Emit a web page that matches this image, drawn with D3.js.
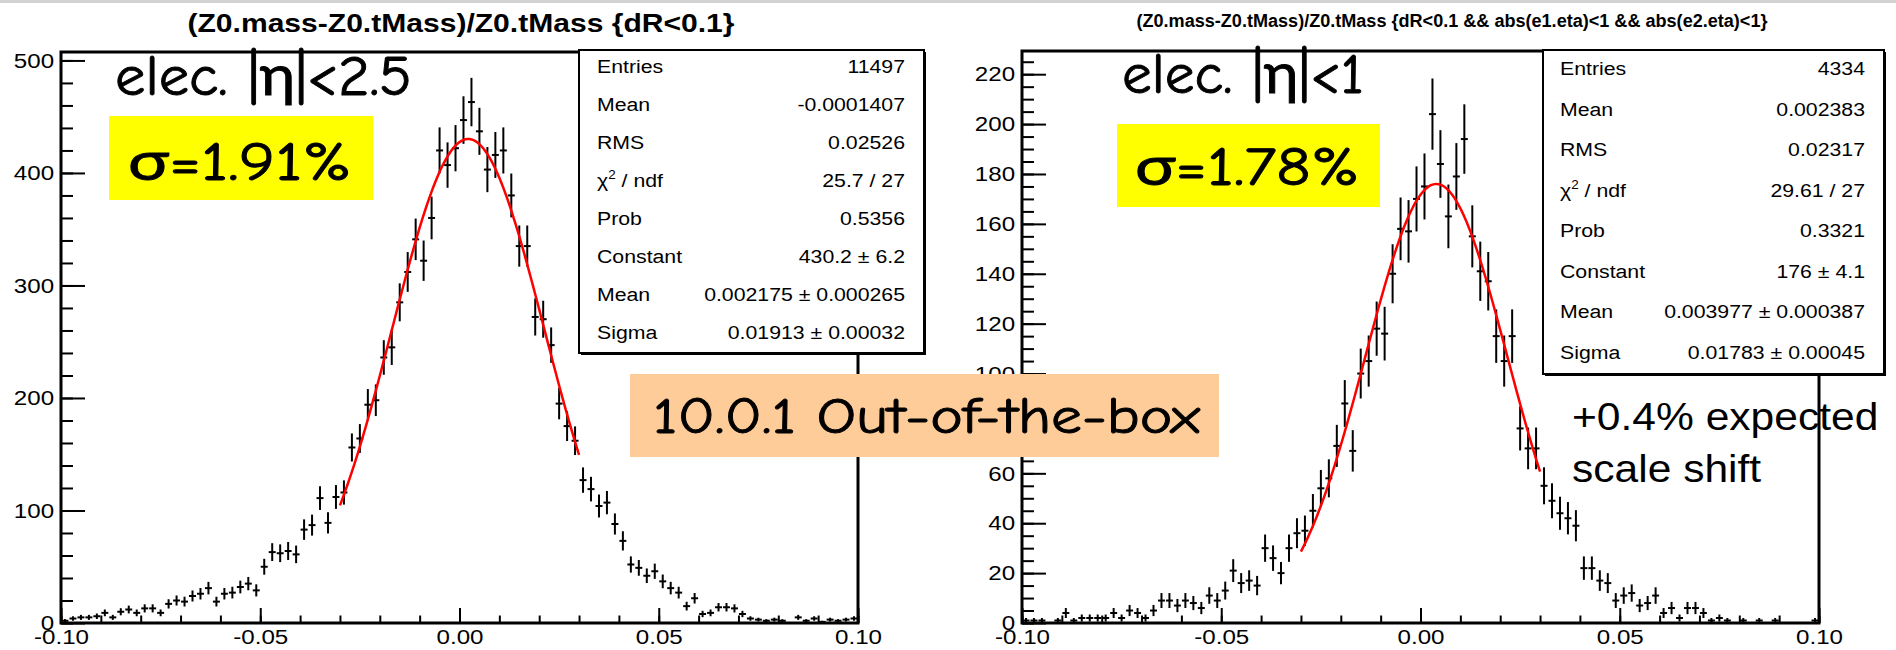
<!DOCTYPE html>
<html>
<head>
<meta charset="utf-8">
<script src="https://cdn.jsdelivr.net/npm/d3@7"></script>
<style>
  body { margin: 0; background: #fff; }
  svg { display: block; }
  text { font-family: 'Liberation Sans', Arial, sans-serif; }
  .hand { font-family: 'Comic Sans MS', 'Comic Neue', Lato, sans-serif; stroke: #000; stroke-width: 0.9px; }
</style>
</head>
<body>
<svg id="chart" width="1896" height="650"></svg>
<script>
const width = 1896;
const height = 650;

// x axis: 100 bins from -0.1 to 0.1
const xDomain = [-0.1, 0.1];
const xTicksMajor = [-0.1, -0.05, 0, 0.05, 0.1];
const xTickLabels = ['-0.10', '-0.05', '0.00', '0.05', '0.10'];

// counts, all electrons |eta|<2.5
const countsAll = [
  2, 4, 5, 5, 6, 9, 5, 10, 12, 9, 13, 13, 9, 17, 20, 19, 24, 26, 31, 19,
  26, 27, 32, 35, 29, 50, 63, 62, 64, 61, 83, 87, 111, 89, 112, 116, 156, 164, 194, 198,
  236, 245, 285, 312, 341, 322, 360, 420, 407, 422, 447, 463, 437, 403, 416, 420, 380, 335, 335, 272,
  270, 247, 195, 175, 162, 127, 119, 104, 107, 88, 73, 52, 49, 42, 46, 37, 31, 27, 15, 22,
  8, 9, 14, 14, 13, 8, 4, 3, 2, 3, 2, 0, 5, 2, 4, 1, 3, 2, 3, 4
];

// counts for |eta|<1
const countsCentral = [
  1, 1, 1, 0, 1, 4, 1, 2, 2, 2, 2, 4, 2, 5, 4, 2, 5, 9, 9, 7,
  9, 8, 6, 11, 9, 13, 21, 16, 17, 15, 30, 26, 20, 30, 36, 37, 45, 54, 58, 71,
  88, 69, 100, 105, 118, 116, 140, 158, 157, 170, 175, 204, 184, 163, 179, 194, 155, 141, 137, 115,
  105, 115, 78, 70, 70, 55, 49, 44, 42, 39, 22, 22, 17, 16, 9, 11, 12, 7, 8, 11,
  4, 6, 2, 6, 6, 4, 1, 2, 1, 0, 1, 0, 1, 0, 1, 0, 0, 0, 0, 1
];

// gaussian fit parameters [constant, mean, sigma] and fit range
const fitAll = [430.2, 0.002175, 0.01913];
const fitCentral = [176, 0.003977, 0.01783];
const fitRange = [-0.03, 0.03];

const statLabels = ['Entries', 'Mean', 'RMS', 'chi2', 'Prob', 'Constant', 'Mean', 'Sigma'];
const statValuesAll = ['11497', '-0.0001407', '0.02526', '25.7 / 27', '0.5356',
  '430.2 \u00b1 6.2', '0.002175 \u00b1 0.000265', '0.01913 \u00b1 0.00032'];
const statValuesCentral = ['4334', '0.002383', '0.02317', '29.61 / 27', '0.3321',
  '176 \u00b1 4.1', '0.003977 \u00b1 0.000387', '0.01783 \u00b1 0.00045'];

const svg = d3.select('#chart')
  .attr('viewBox', `0 0 ${width} ${height}`);

svg.append('rect').attr('width', width).attr('height', height).attr('fill', '#fff');
svg.append('rect').attr('width', width).attr('height', 3).attr('fill', '#d2d2d2');

const panels = [
  {
    counts: countsAll, fit: fitAll, stats: statValuesAll,
    title: '(Z0.mass-Z0.tMass)/Z0.tMass {dR<0.1}',
    titleX: 461, titleY: 32, titleSize: 26, titleLen: 547,
    left: 61, right: 858, top: 52, bottom: 623, ymax: 507.5, yMajor: 100, yMinor: 20,
    box: { x0: 579, y0: 50, x1: 924, y1: 353, labelX: 597, valueX: 905, base: 73, step: 38 },
    eta: { text: 'elec. |\u03b7|<2.5', x: 115, y: 95, len: 297 },
    sigma: { text: '\u03c3=1.91%', x: 128, y: 180, len: 224, bx: 109, by: 116, bw: 264, bh: 84 }
  },
  {
    counts: countsCentral, fit: fitCentral, stats: statValuesCentral,
    title: '(Z0.mass-Z0.tMass)/Z0.tMass {dR<0.1 && abs(e1.eta)<1 && abs(e2.eta)<1}',
    titleX: 1452, titleY: 27, titleSize: 18, titleLen: 631,
    left: 1022, right: 1819, top: 51, bottom: 623, ymax: 229.3, yMajor: 20, yMinor: 5,
    box: { x0: 1543, y0: 50, x1: 1884, y1: 374, labelX: 1560, valueX: 1865, base: 75, step: 40.5 },
    eta: { text: 'elec. |\u03b7|<1', x: 1122, y: 93, len: 242 },
    sigma: { text: '\u03c3=1.78%', x: 1135, y: 185, len: 225, bx: 1117, by: 124, bw: 263, bh: 83 }
  }
];

panels.forEach(drawPanel);

// shared overlay label across both pads
svg.append('rect')
  .attr('x', 630).attr('y', 374).attr('width', 589).attr('height', 83)
  .attr('fill', '#fecc98');
svg.append('text')
  .attr('class', 'hand')
  .attr('x', 653).attr('y', 433)
  .attr('font-size', 50)
  .attr('textLength', 547).attr('lengthAdjust', 'spacingAndGlyphs')
  .text('10.0.1 Out-of-the-box');

svg.append('text')
  .attr('transform', 'translate(1572,430) scale(1.12,1)')
  .attr('font-size', 38)
  .text('+0.4% expected');
svg.append('text')
  .attr('transform', 'translate(1572,482) scale(1.12,1)')
  .attr('font-size', 38)
  .text('scale shift');

function drawPanel(p) {
  const g = svg.append('g');
  const x = d3.scaleLinear().domain(xDomain).range([p.left, p.right]);
  const y = d3.scaleLinear().domain([0, p.ymax]).range([p.bottom, p.top]);
  const binWidth = (xDomain[1] - xDomain[0]) / p.counts.length;

  // title
  g.append('text')
    .attr('x', p.titleX).attr('y', p.titleY)
    .attr('text-anchor', 'middle')
    .attr('font-weight', 'bold')
    .attr('font-size', p.titleSize)
    .attr('textLength', p.titleLen).attr('lengthAdjust', 'spacingAndGlyphs')
    .text(p.title);

  // x axis ticks
  const xMinor = g.append('g')
    .attr('transform', `translate(0,${p.bottom})`)
    .call(d3.axisBottom(x).tickValues(d3.range(-10, 11).map(d => d / 100)).tickSize(-7.5).tickFormat(''));
  const xMajor = g.append('g')
    .attr('transform', `translate(0,${p.bottom})`)
    .call(d3.axisBottom(x).tickValues(xTicksMajor).tickSize(-15).tickPadding(6)
      .tickFormat((d, i) => xTickLabels[i]));

  // y axis ticks
  const yMinor = g.append('g')
    .attr('transform', `translate(${p.left},0)`)
    .call(d3.axisLeft(y).tickValues(d3.range(0, p.ymax, p.yMinor)).tickSize(-12).tickFormat(''));
  const yMajor = g.append('g')
    .attr('transform', `translate(${p.left},0)`)
    .call(d3.axisLeft(y).tickValues(d3.range(0, p.ymax, p.yMajor)).tickSize(-24).tickPadding(6)
      .tickFormat(d3.format('d')));

  [xMinor, xMajor, yMinor, yMajor].forEach(a => {
    a.select('.domain').remove();
    a.selectAll('.tick line').attr('stroke', '#000').attr('stroke-width', 2);
    a.selectAll('.tick text')
      .attr('font-family', "'Liberation Sans', Arial, sans-serif")
      .attr('font-size', 21)
      .attr('fill', '#000')
      .attr('transform', 'scale(1.15,1)');
  });

  // frame
  g.append('rect')
    .attr('x', p.left).attr('y', p.top)
    .attr('width', p.right - p.left).attr('height', p.bottom - p.top)
    .attr('fill', 'none').attr('stroke', '#000').attr('stroke-width', 3);

  // histogram with errors
  const bins = p.counts
    .map((c, i) => ({ c, lo: xDomain[0] + i * binWidth, hi: xDomain[0] + (i + 1) * binWidth }))
    .filter(d => d.c > 0);

  const marks = g.append('g').attr('stroke', '#000').attr('stroke-width', 2);
  marks.selectAll('line.ey')
    .data(bins)
    .join('line')
    .attr('class', 'ey')
    .attr('x1', d => x((d.lo + d.hi) / 2)).attr('x2', d => x((d.lo + d.hi) / 2))
    .attr('y1', d => y(Math.max(0, d.c - Math.sqrt(d.c))))
    .attr('y2', d => y(d.c + Math.sqrt(d.c)));
  marks.selectAll('line.ex')
    .data(bins)
    .join('line')
    .attr('class', 'ex')
    .attr('x1', d => x(d.lo) + 0.5).attr('x2', d => x(d.hi) - 0.5)
    .attr('y1', d => y(d.c)).attr('y2', d => y(d.c));

  // gaussian fit
  const [c0, mu, sg] = p.fit;
  const fx = d3.range(fitRange[0], fitRange[1] + 1e-9, 0.0005);
  g.append('path')
    .datum(fx)
    .attr('fill', 'none')
    .attr('stroke', '#ff0000')
    .attr('stroke-width', 2.5)
    .attr('d', d3.line()
      .x(v => x(v))
      .y(v => y(c0 * Math.exp(-0.5 * ((v - mu) / sg) ** 2))));

  // stats box
  const b = p.box;
  g.append('rect')
    .attr('x', b.x0 + 2).attr('y', b.y0 + 2)
    .attr('width', b.x1 - b.x0).attr('height', b.y1 - b.y0)
    .attr('fill', '#000');
  g.append('rect')
    .attr('x', b.x0).attr('y', b.y0)
    .attr('width', b.x1 - b.x0).attr('height', b.y1 - b.y0)
    .attr('fill', '#fff').attr('stroke', '#000').attr('stroke-width', 2);

  statLabels.forEach((lab, i) => {
    const ty = b.base + i * b.step;
    const t = g.append('text')
      .attr('transform', `translate(${b.labelX},${ty}) scale(1.12,1)`)
      .attr('font-size', 19);
    if (lab === 'chi2') {
      t.append('tspan').text('\u03c7');
      t.append('tspan').attr('font-size', 12).attr('dy', -8).text('2');
      t.append('tspan').attr('dy', 8).text(' / ndf');
    } else {
      t.text(lab);
    }
    g.append('text')
      .attr('transform', `translate(${b.valueX},${ty}) scale(1.12,1)`)
      .attr('text-anchor', 'end')
      .attr('font-size', 19)
      .text(p.stats[i]);
  });

  // hand-written annotations
  g.append('text')
    .attr('class', 'hand')
    .attr('x', p.eta.x).attr('y', p.eta.y)
    .attr('font-size', 57)
    .attr('textLength', p.eta.len).attr('lengthAdjust', 'spacingAndGlyphs')
    .text(p.eta.text);

  const s = p.sigma;
  g.append('rect')
    .attr('x', s.bx).attr('y', s.by).attr('width', s.bw).attr('height', s.bh)
    .attr('fill', '#ffff00');
  g.append('text')
    .attr('class', 'hand')
    .attr('x', s.x).attr('y', s.y)
    .attr('font-size', 55)
    .attr('textLength', s.len).attr('lengthAdjust', 'spacingAndGlyphs')
    .text(s.text);
}
</script>
</body>
</html>
